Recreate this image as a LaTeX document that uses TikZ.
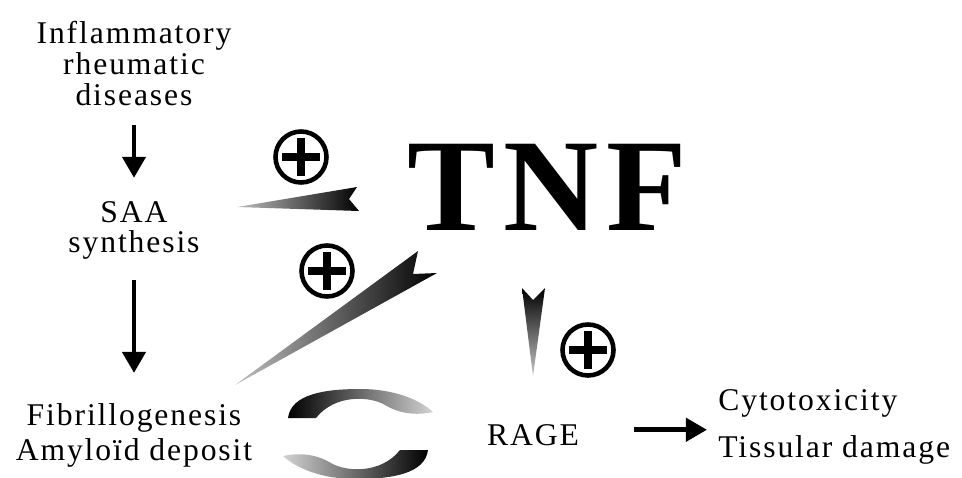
\documentclass[tikz,border=0pt]{standalone}
\usepackage{fontspec}
\setmainfont{Liberation Serif}
\newfontfamily\lblfont[LetterSpace=6]{Liberation Serif}
\usetikzlibrary{arrows.meta}

\begin{document}
\begin{tikzpicture}[x=0.02cm,y=-0.02cm]
\tikzstyle{txt} = [inner sep=0pt, align=center, font=\lblfont\fontsize{18}{18}\selectfont]
\tikzstyle{blk} = [line width=2.8pt, -{Triangle[length=12pt,width=13pt]}]
\tikzstyle{pluscirc} = [circle, draw, line width=2.6pt, minimum size=1.02cm, inner sep=0pt,
  path picture={\draw[line width=4pt] (path picture bounding box.center) +(-19,0) -- +(19,0)
    (path picture bounding box.center) +(0,-19) -- +(0,19);}]

\useasboundingbox (0,0) rectangle (962,477);

% labels (base = last line)
\node[txt, anchor=base] (infl) at (134,105) {Inflammatory\\[-0.5pt]rheumatic\\[-0.5pt]diseases};
\node[txt, anchor=base] (saa) at (134,252) {SAA\\[-1pt]synthesis};
\node[txt, anchor=base] (fibril) at (134,460) {Fibrillogenesis\\[1.8pt]Amylo\"id deposit};
\node[txt, anchor=base, font=\lblfont\bfseries\fontsize{75}{75}\selectfont] (tnf) at (547,230) {TNF};
\node[txt, anchor=base] (rage) at (533,445) {RAGE};
\node[txt, anchor=base west, align=left] (cyto) at (718,457) {Cytotoxicity\\[8.6pt]Tissular damage};

% straight arrows
\draw[blk, shorten <=0.38cm, shorten >=0.46cm] (infl.south) -- (saa.north);
\draw[blk, shorten <=0.42cm, shorten >=0.6cm] (saa.south) -- (fibril.north);
\draw[blk, shorten <=1.1cm, shorten >=0.22cm] ([yshift=2.8pt]rage.east) -- ([yshift=2.8pt]rage.east -| cyto.west);

% tapered arrows
\shade[left color=gray!50, right color=black] (237,207) -- (357,187) -- (349,199) -- (359,211) -- cycle;
\shade[left color=gray!50, right color=black] (235,385) -- (418,251) -- (413,274) -- (437,273) -- cycle;
\shade[top color=black, bottom color=gray!45] (522,288) -- (533,300) -- (545,288) -- (533,376) -- cycle;

% cycle between deposit and RAGE
\shade[left color=black, middle color=black, right color=gray!35]
  (288,418) .. controls (291,394) and (325,389) .. (360,389)
  .. controls (395,389) and (420,400) .. (433,412)
  .. controls (415,416) and (398,413) .. (385,405)
  .. controls (370,396) and (335,394) .. (316,418) -- cycle;
\shade[left color=gray!35, middle color=black, right color=black]
  (428,450) .. controls (425,474) and (391,479) .. (356,479)
  .. controls (321,479) and (296,468) .. (283,456)
  .. controls (301,452) and (318,455) .. (331,463)
  .. controls (346,472) and (381,474) .. (400,450) -- cycle;

% plus signs
\node[pluscirc] (p1) at (301,157) {};
\node[pluscirc] (p2) at (327,271) {};
\node[pluscirc] (p3) at (588,350) {};

\end{tikzpicture}
\end{document}
